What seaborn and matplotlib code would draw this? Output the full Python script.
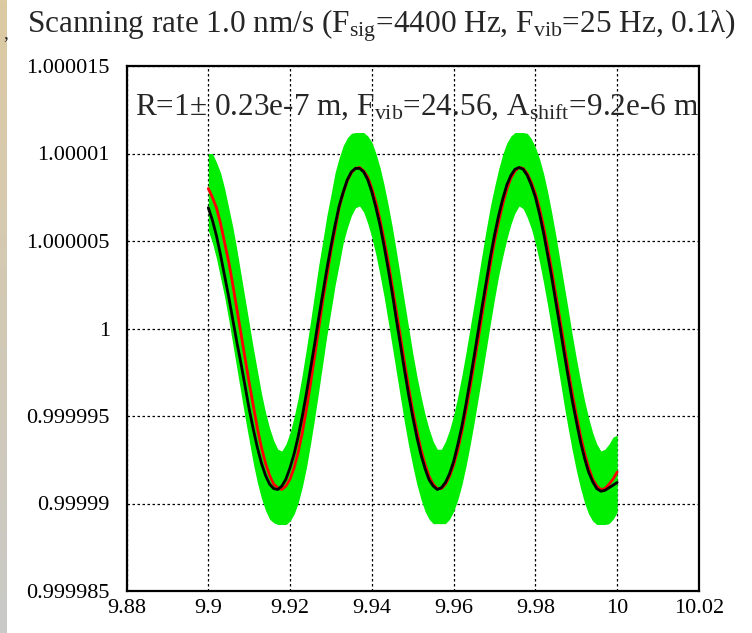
import numpy as np
import pandas as pd
import seaborn as sns
import matplotlib.pyplot as plt
from matplotlib.ticker import MultipleLocator, FuncFormatter

# time axis (s), one sample per ms
time = [9.900, 9.901, 9.902, 9.903, 9.904, 9.905, 9.906, 9.907, 9.908, 9.909,
        9.910, 9.911, 9.912, 9.913, 9.914, 9.915, 9.916, 9.917, 9.918, 9.919,
        9.920, 9.921, 9.922, 9.923, 9.924, 9.925, 9.926, 9.927, 9.928, 9.929,
        9.930, 9.931, 9.932, 9.933, 9.934, 9.935, 9.936, 9.937, 9.938, 9.939,
        9.940, 9.941, 9.942, 9.943, 9.944, 9.945, 9.946, 9.947, 9.948, 9.949,
        9.950, 9.951, 9.952, 9.953, 9.954, 9.955, 9.956, 9.957, 9.958, 9.959,
        9.960, 9.961, 9.962, 9.963, 9.964, 9.965, 9.966, 9.967, 9.968, 9.969,
        9.970, 9.971, 9.972, 9.973, 9.974, 9.975, 9.976, 9.977, 9.978, 9.979,
        9.980, 9.981, 9.982, 9.983, 9.984, 9.985, 9.986, 9.987, 9.988, 9.989,
        9.990, 9.991, 9.992, 9.993, 9.994, 9.995, 9.996, 9.997, 9.998, 9.999,
        10.000]

# offsets from R=1, in units of 1e-6
fit_black = [6.9, 6.2, 5.3, 4.2, 3.0, 1.8, 0.5, -0.8, -2.0, -3.3,
             -4.6, -5.75, -6.8, -7.7, -8.4, -8.9, -9.15, -9.2, -9.0, -8.6,
             -7.95, -7.15, -6.15, -5.0, -3.7, -2.3, -0.9, 0.6, 2.0, 3.4,
             4.7, 5.9, 7.0, 7.8, 8.5, 8.95, 9.15, 9.15, 8.95, 8.5,
             7.8, 6.9, 5.9, 4.7, 3.4, 2.0, 0.5, -0.95, -2.4, -3.8,
             -5.05, -6.2, -7.2, -8.0, -8.65, -9.0, -9.2, -9.1, -8.8, -8.3,
             -7.6, -6.65, -5.6, -4.35, -3.0, -1.6, -0.15, 1.3, 2.7, 4.1,
             5.35, 6.45, 7.4, 8.2, 8.75, 9.1, 9.2, 9.1, 8.75, 8.2,
             7.5, 6.55, 5.45, 4.2, 2.9, 1.5, 0.1, -1.35, -2.75, -4.1,
             -5.3, -6.45, -7.4, -8.2, -8.75, -9.15, -9.3, -9.25, -9.1, -8.95,
             -8.8]

signal_red = [8.0, 7.5, 6.9, 6.0, 4.9, 3.8, 2.5, 1.1, -0.3, -1.7,
              -3.1, -4.4, -5.7, -6.8, -7.7, -8.4, -8.9, -9.1, -9.2, -9.0,
              -8.6, -7.95, -7.05, -5.95, -4.6, -3.15, -1.6, 0.0, 1.6, 3.0,
              4.45, 5.65, 6.9, 7.75, 8.45, 8.9, 9.15, 9.2, 9.0, 8.65,
              8.0, 7.2, 6.2, 5.05, 3.8, 2.4, 0.95, -0.5, -1.95, -3.4,
              -4.7, -5.85, -6.9, -7.75, -8.45, -8.9, -9.15, -9.15, -8.9, -8.45,
              -7.8, -6.95, -5.9, -4.7, -3.4, -2.0, -0.6, 0.85, 2.3, 3.7,
              5.0, 6.1, 7.1, 7.95, 8.6, 9.0, 9.2, 9.15, 8.85, 8.35,
              7.7, 6.85, 5.8, 4.6, 3.3, 1.9, 0.5, -0.9, -2.35, -3.7,
              -4.95, -6.1, -7.1, -7.95, -8.6, -9.0, -9.2, -9.15, -8.9, -8.6,
              -8.2]

band_upper = [10.0, 10.0, 9.5, 8.9, 8.0, 6.9, 5.8, 4.5, 3.1, 1.7,
              0.3, -1.1, -2.4, -3.7, -4.8, -5.7, -6.4, -6.9, -7.0, -6.6,
              -5.95, -5.05, -3.95, -2.6, -1.15, 0.4, 2.0, 3.6, 5.0, 6.45,
              7.65, 8.9, 9.75, 10.45, 10.9, 11.15, 11.2, 11.2, 11.2, 11.0,
              10.65, 10.0, 9.2, 8.2, 7.05, 5.8, 4.4, 2.95, 1.5, 0.05,
              -1.4, -2.7, -3.85, -4.9, -5.75, -6.45, -6.9, -6.9, -6.45, -5.8,
              -4.95, -3.9, -2.7, -1.4, 0.0, 1.4, 2.85, 4.3, 5.7, 7.0,
              8.1, 9.1, 9.95, 10.6, 11.0, 11.2, 11.2, 11.2, 11.15, 10.85,
              10.35, 9.7, 8.85, 7.8, 6.6, 5.3, 3.9, 2.5, 1.1, -0.35,
              -1.7, -2.95, -4.1, -5.1, -5.95, -6.6, -7.0, -6.9, -6.6, -6.2,
              -6.1]

band_lower = [5.6, 4.9, 4.0, 2.9, 1.8, 0.5, -0.9, -2.3, -3.7, -5.1,
              -6.4, -7.7, -8.8, -9.7, -10.4, -10.9, -11.1, -11.2, -11.2, -11.2,
              -11.0, -10.6, -9.95, -9.05, -7.95, -6.6, -5.15, -3.6, -2.0, -0.4,
              1.0, 2.45, 3.65, 4.9, 5.75, 6.45, 6.9, 7.0, 6.65, 6.0,
              5.2, 4.2, 3.05, 1.8, 0.4, -1.05, -2.5, -3.95, -5.4, -6.7,
              -7.85, -8.9, -9.75, -10.45, -10.9, -11.15, -11.15, -11.15, -11.15, -10.9,
              -10.45, -9.8, -8.95, -7.9, -6.7, -5.4, -4.0, -2.6, -1.15, 0.3,
              1.7, 3.0, 4.1, 5.1, 5.95, 6.6, 7.0, 6.85, 6.35, 5.7,
              4.85, 3.8, 2.6, 1.3, -0.1, -1.5, -2.9, -4.35, -5.7, -6.95,
              -8.1, -9.1, -9.95, -10.6, -11.0, -11.2, -11.2, -11.2, -11.15, -10.9,
              -10.5]

title = "Scanning rate 1.0 nm/s (F$_{\\mathrm{sig}}$=4400 Hz, F$_{\\mathrm{vib}}$=25 Hz, 0.1λ)"
note = "R=1± 0.23e-7 m, F$_{\\mathrm{vib}}$=24.56, A$_{\\mathrm{shift}}$=9.2e-6 m"

df = pd.DataFrame({
    't': time,
    'black': 1 + np.array(fit_black) * 1e-6,
    'red': 1 + np.array(signal_red) * 1e-6,
    'hi': 1 + np.array(band_upper) * 1e-6,
    'lo': 1 + np.array(band_lower) * 1e-6,
})

sns.set_style("white")
plt.rcParams['font.family'] = ['Liberation Serif', 'DejaVu Serif']
plt.rcParams['mathtext.fontset'] = 'custom'
plt.rcParams['mathtext.rm'] = 'Liberation Serif'
plt.rcParams['mathtext.it'] = 'Liberation Serif:italic'

fig = plt.figure(figsize=(7.52, 6.33), dpi=100)
ax = fig.add_axes([126.5 / 752, 1 - 591 / 633, 572.5 / 752, 525 / 633])

ax.fill_between(df['t'], df['lo'], df['hi'], color='#00ee00', lw=0, zorder=2)
sns.lineplot(data=df, x='t', y='red', color='#ff0000', lw=2.0, ax=ax, zorder=3)
sns.lineplot(data=df, x='t', y='black', color='black', lw=2.0, ax=ax, zorder=4)

ax.set_xlim(9.88, 10.02)
ax.set_ylim(0.999985, 1.000015)
ax.xaxis.set_major_locator(MultipleLocator(0.02))
ax.xaxis.set_minor_locator(MultipleLocator(0.005))
ax.yaxis.set_major_locator(MultipleLocator(5e-6))
ax.yaxis.set_minor_locator(MultipleLocator(2.5e-6))
ax.xaxis.set_major_formatter(FuncFormatter(lambda v, _: f"{v:.2f}".rstrip('0').rstrip('.')))
ax.yaxis.set_major_formatter(FuncFormatter(lambda v, _: f"{v:.6f}".rstrip('0').rstrip('.')))
ax.set_xlabel('')
ax.set_ylabel('')

ax.grid(True, which='major', color='black', linestyle=(0, (2, 2)), lw=0.9, zorder=1)
ax.tick_params(which='major', direction='out', width=1.2, labelsize=16, colors='black')
ax.tick_params(axis='y', which='major', length=9, pad=3)
ax.tick_params(axis='x', which='major', length=5, pad=1)
ax.tick_params(which='minor', direction='out', length=4, width=1.0)
for s in ax.spines.values():
    s.set_color('black')
    s.set_linewidth(1.6)

ax.text(0.015, 0.922, note, transform=ax.transAxes, fontsize=22.5, va='center', ha='left', zorder=5)
fig.text(27 / 752, 1 - 26 / 633, title, fontsize=22.5, va='center', ha='left')

# slide edge strip on the left
strip = fig.add_axes([0, 0, 7 / 752, 1])
grad = np.linspace(0, 1, 100).reshape(-1, 1)
strip.imshow(grad, aspect='auto', cmap=sns.blend_palette(['#dccaa3', '#c9c9c7'], as_cmap=True))
strip.axis('off')
fig.text(3 / 752, 1 - 38 / 633, ',', fontsize=14)

fig.savefig('out.png', dpi=100)
